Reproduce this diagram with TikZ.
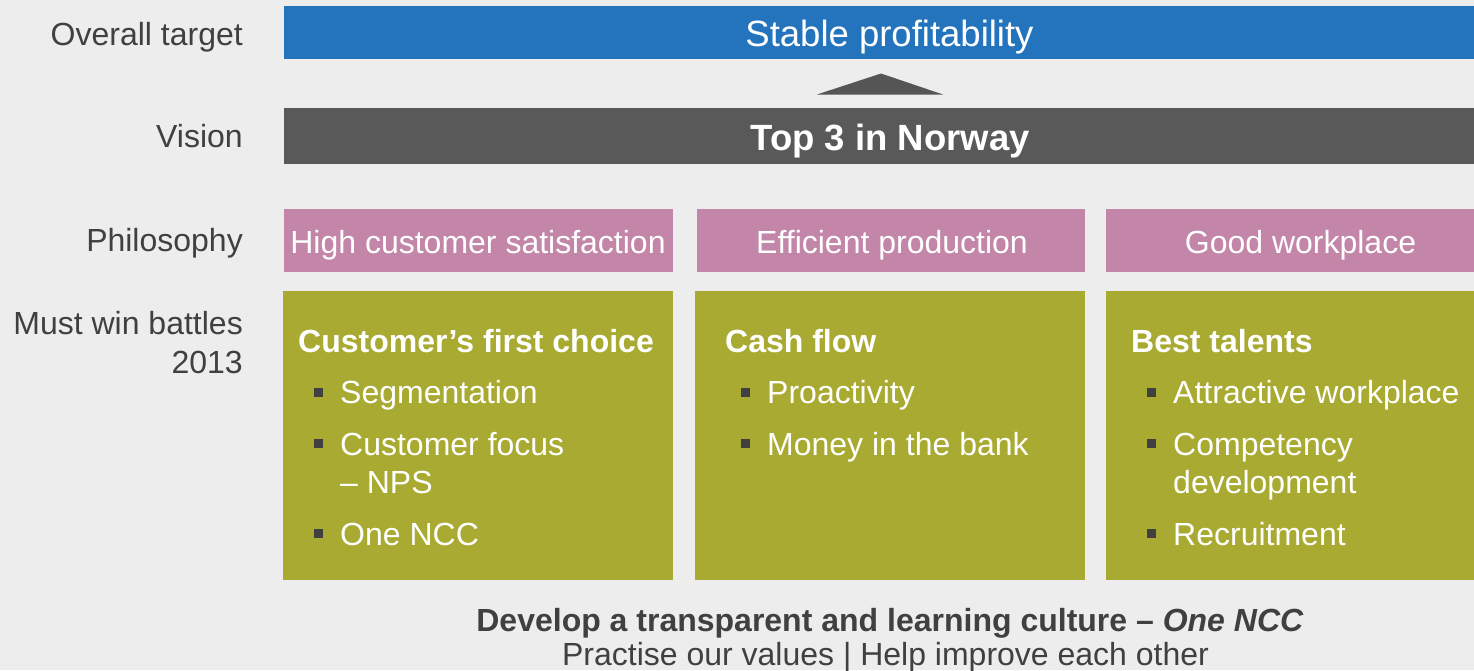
\documentclass[tikz,border=0pt]{standalone}
\usepackage{fontspec}
\setmainfont{Liberation Sans}
\definecolor{bg}{RGB}{237,237,237}
\definecolor{tblue}{RGB}{35,116,189}
\definecolor{vgray}{RGB}{89,89,89}
\definecolor{tri}{RGB}{85,85,85}
\definecolor{pinkbox}{RGB}{195,134,168}
\definecolor{olivebox}{RGB}{168,170,50}
\definecolor{txt}{RGB}{64,64,64}
\tikzset{
  box/.style={draw=none, inner sep=0pt, outer sep=0pt, anchor=north west},
  lab/.style={text=txt, font=\fontsize{32}{37}\selectfont, inner sep=0pt, anchor=base east},
  bartxt/.style={text=white, font=\fontsize{36.5}{42}\selectfont, inner sep=0pt, anchor=base},
  phil/.style={text=white, font=\fontsize{32}{37}\selectfont, inner sep=0pt, anchor=base},
  head/.style={text=white, font=\bfseries\fontsize{32}{37}\selectfont, inner sep=0pt, anchor=base west},
  item/.style={text=white, font=\fontsize{32}{37}\selectfont, inner sep=0pt, anchor=base west},
  sq/.style={fill=txt, minimum size=9pt, inner sep=0pt, outer sep=0pt},
  foot/.style={text=txt, font=\fontsize{32}{37}\selectfont, inner sep=0pt, anchor=base}
}
\begin{document}
\begin{tikzpicture}[x=1pt,y=-1pt]
\useasboundingbox (0,0) rectangle (1474,670);
\fill[bg] (0,0) rectangle (1474,670);
% labels
\node[lab] (lt) at (243,45) {Overall target};
\node[lab] (lv) at (243,147) {Vision};
\node[lab] (lp) at (243,251) {Philosophy};
\node[lab] (lm1) at (243,334) {Must win battles};
\node[lab] (lm2) at (243,373) {2013};
% top bars
\node[box, fill=tblue, minimum width=1190pt, minimum height=53pt] (target) at (284,6) {};
\node[bartxt] (targett) at (889.5,46) {Stable profitability};
\fill[tri] (817,94.5) -- (881,73.5) -- (943,94.5) -- cycle;
\node[box, fill=vgray, minimum width=1190pt, minimum height=56pt] (vision) at (284,108) {};
\node[bartxt, font=\bfseries\fontsize{36.5}{42}\selectfont] (visiont) at (890,150) {Top 3 in Norway};
% philosophy
\node[box, fill=pinkbox, minimum width=389pt, minimum height=63pt] (p1) at (284,209) {};
\node[box, fill=pinkbox, minimum width=388pt, minimum height=63pt] (p2) at (697,209) {};
\node[box, fill=pinkbox, minimum width=368pt, minimum height=63pt] (p3) at (1106,209) {};
\node[phil] (p1t) at (478,253) {High customer satisfaction};
\node[phil] (p2t) at (892,253) {Efficient production};
\node[phil] (p3t) at (1300.5,253) {Good workplace};
% must win battles
\node[box, fill=olivebox, minimum width=390pt, minimum height=289pt] (m1) at (283,291) {};
\node[box, fill=olivebox, minimum width=390pt, minimum height=289pt] (m2) at (695,291) {};
\node[box, fill=olivebox, minimum width=368pt, minimum height=289pt] (m3) at (1106,291) {};
% column 1
\node[head] (h1) at (298,352) {Customer’s first choice};
\node[sq] (b11) at (318,392) {};
\node[item] (i11) at (340,403) {Segmentation};
\node[sq] (b12) at (318,443) {};
\node[item] (i12) at (340,455) {Customer focus};
\node[item] (i12b) at (340,493) {– NPS};
\node[sq] (b13) at (318,533) {};
\node[item] (i13) at (340,545) {One NCC};
% column 2
\node[head] (h2) at (725,352) {Cash flow};
\node[sq] (b21) at (745,392) {};
\node[item] (i21) at (767,403) {Proactivity};
\node[sq] (b22) at (745,443) {};
\node[item] (i22) at (767,455) {Money in the bank};
% column 3
\node[head] (h3) at (1131,352) {Best talents};
\node[sq] (b31) at (1151,392) {};
\node[item] (i31) at (1173,403) {Attractive workplace};
\node[sq] (b32) at (1151,443) {};
\node[item] (i32) at (1173,455) {Competency};
\node[item] (i32b) at (1173,493) {development};
\node[sq] (b33) at (1151,533) {};
\node[item] (i33) at (1173,545) {Recruitment};
% footer
\node[foot] (f1) at (890,631) {\textbf{Develop a transparent and learning culture – \textit{One NCC}}};
\node[foot] (f2) at (885.5,665) {Practise our values | Help improve each other};
\end{tikzpicture}
\end{document}
